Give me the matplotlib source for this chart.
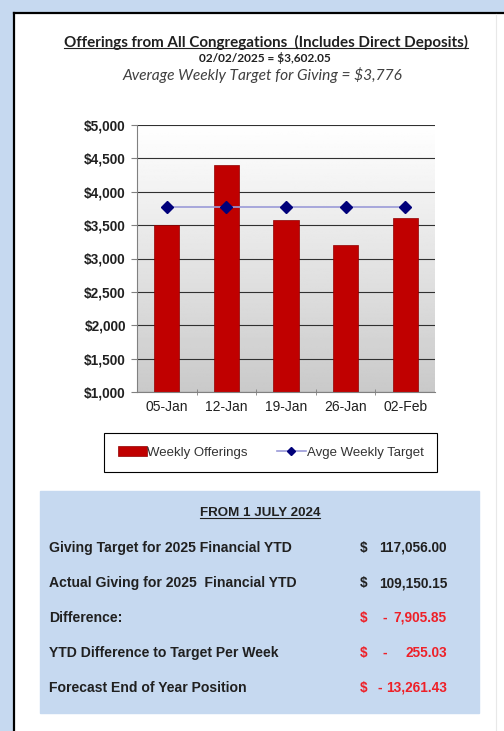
import matplotlib
matplotlib.use("Agg")
import matplotlib.pyplot as plt
import numpy as np
from matplotlib.patches import Rectangle
from matplotlib.lines import Line2D

plt.rcParams['text.parse_math'] = False
plt.rcParams['font.family'] = ['Liberation Sans', 'DejaVu Sans']

weeks = ["05-Jan", "12-Jan", "19-Jan", "26-Jan", "02-Feb"]
offerings = [3500, 4400, 3580, 3200, 3602.05]
target = [3776, 3776, 3776, 3776, 3776]

row_labels = ["Giving Target for 2025 Financial YTD",
              "Actual Giving for 2025  Financial YTD",
              "Difference:",
              "YTD Difference to Target Per Week",
              "Forecast End of Year Position"]
row_values = [117056.00, 109150.15, -7905.85, -255.03, -13261.43]

W, H = 504, 731
fig = plt.figure(figsize=(W / 100, H / 100), dpi=100)


def fx(x):
    return x / W


def fy(y):
    return 1 - y / H


# page background: blue strip + black frame
fig.patches.append(Rectangle((0, 0), 1, 1, transform=fig.transFigure,
                             color='white', zorder=-10))
fig.patches.append(Rectangle((0, fy(12)), 1, 12 / H, transform=fig.transFigure,
                             color='#c6d9f0', zorder=-9))
fig.patches.append(Rectangle((0, 0), fx(13), 1, transform=fig.transFigure,
                             color='#c6d9f0', zorder=-9))
fig.lines.append(Line2D([fx(13.5), fx(13.5)], [0, fy(12.5)], transform=fig.transFigure,
                        color='black', lw=1.6))
fig.lines.append(Line2D([fx(13.5), 1], [fy(12.5), fy(12.5)], transform=fig.transFigure,
                        color='black', lw=1.6))
fig.lines.append(Line2D([fx(496), fx(496)], [0, fy(14)], transform=fig.transFigure,
                        color='#e8e8e8', lw=0.8))

# titles
t1 = fig.text(fx(266), fy(42), "Offerings from All Congregations  (Includes Direct Deposits)",
              ha='center', va='center', fontsize=10.9, fontweight='bold',
              family=['Lato', 'DejaVu Sans'], color='#202020')
fig.text(fx(265), fy(58), "02/02/2025 = $3,602.05", ha='center', va='center',
         fontsize=8.6, fontweight='bold', family=['Lato', 'DejaVu Sans'], color='#202020')
fig.text(fx(262), fy(75), "Average Weekly Target for Giving = $3,776", ha='center',
         va='center', fontsize=11.2, style='italic', family=['Lato', 'DejaVu Sans'],
         color='#404040')

# chart
ax = fig.add_axes([fx(137), fy(392), 298 / W, 267 / H])
grad = np.linspace(0.79, 1.0, 256).reshape(-1, 1)
ax.imshow(grad, extent=[0, 1, 0, 1], transform=ax.transAxes, cmap='gray',
          vmin=0, vmax=1, aspect='auto', origin='lower', zorder=0)

x = np.arange(len(weeks))
ax.bar(x, offerings, width=0.42, color='#c00000', edgecolor='#900000',
       linewidth=0.5, zorder=3, label='Weekly Offerings')
ax.plot(x, target, color='#9a9ad8', lw=1.2, marker='D', ms=6,
        mfc='#00007a', mec='#00007a', zorder=4, label='Avge Weekly Target')

ax.set_xlim(-0.5, len(weeks) - 0.5)
ax.set_ylim(1000, 5000)
ax.set_yticks(np.arange(1000, 5001, 500))
ax.set_yticklabels([f"${v:,}" for v in range(1000, 5001, 500)],
                   fontsize=9.8, fontweight='bold', color='#202020')
ax.set_xticks(x)
ax.set_xticklabels(weeks, fontsize=10, color='#202020')
ax.set_xticks(x[:-1] + 0.5, minor=True)
ax.tick_params(axis='x', which='major', length=0, pad=6)
ax.tick_params(axis='x', which='minor', length=5, direction='inout', color='#808080')
ax.tick_params(axis='y', length=4, color='#808080', pad=4)
ax.yaxis.grid(True, color='#303030', lw=0.8, zorder=1)
ax.set_axisbelow(True)
for s in ['top', 'right']:
    ax.spines[s].set_visible(False)
for s in ['left', 'bottom']:
    ax.spines[s].set_color('#808080')
    ax.spines[s].set_zorder(5)

handles, labels = ax.get_legend_handles_labels()
order = [labels.index('Weekly Offerings'), labels.index('Avge Weekly Target')]
leg = fig.legend([handles[i] for i in order], [labels[i] for i in order],
                 loc='center', bbox_to_anchor=(fx(270.5), fy(452.5)),
                 ncol=2, fontsize=9.5, frameon=True, fancybox=False, edgecolor='black',
                 framealpha=1, handlelength=2.2, handletextpad=0.05, columnspacing=2.2,
                 borderpad=1.0, labelcolor='#333333', markerscale=0.65)
leg.get_frame().set_linewidth(0.8)

# summary box
fig.patches.append(Rectangle((fx(40), fy(713)), 439 / W, 222 / H,
                             transform=fig.transFigure, color='#c6d9f0', zorder=0))
t2 = fig.text(fx(260), fy(513), "FROM 1 JULY 2024", ha='center', va='center',
              fontsize=9.6, fontweight='bold', color='#202020')
row_y = [548, 583, 618, 653, 688]
num_texts = []
for lab, val, yy in zip(row_labels, row_values, row_y):
    fig.text(fx(49), fy(yy), lab, ha='left', va='center', fontsize=10.1,
             fontweight='bold', color='#202020')
    col = '#202020' if val >= 0 else '#ee2028'
    fig.text(fx(364), fy(yy), "$", ha='center', va='center', fontsize=9.8,
             fontweight='bold', color=col)
    t = fig.text(fx(447), fy(yy), f"{abs(val):,.2f}", ha='right', va='center',
                 fontsize=9.8, fontweight='bold', color=col)
    num_texts.append((t, val, yy, col))

fig.canvas.draw()
inv = fig.transFigure.inverted()

# minus signs sit left of the number, as in the accounting format
for t, val, yy, col in num_texts:
    if val < 0:
        left = t.get_window_extent().x0
        mx = min(385, left - 6)
        fig.text(fx(mx), fy(yy), "-", ha='center', va='center', fontsize=9.8,
                 fontweight='bold', color=col)

# underlines
for t in (t1, t2):
    bb = t.get_window_extent()
    (x0, y0), (x1, _) = inv.transform([[bb.x0, bb.y0 + 1.5], [bb.x1, bb.y0]])
    fig.lines.append(Line2D([x0, x1], [y0, y0], transform=fig.transFigure,
                            color='#202020', lw=0.8))

fig.savefig("out.png", dpi=100)
